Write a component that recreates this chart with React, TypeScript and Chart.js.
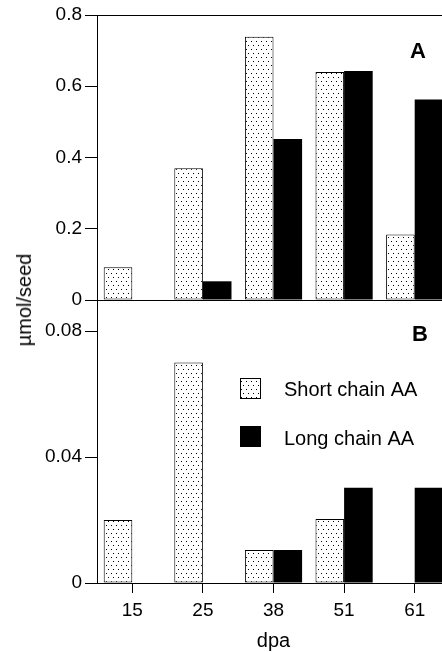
import React, { useEffect, useRef } from 'react';
import { Chart, registerables } from 'chart.js';

Chart.register(...registerables);

const categories = ['15', '25', '38', '51', '61'];
const shortChainA = [0.092, 0.37, 0.739, 0.64, 0.184];
const longChainA = [null, 0.0525, 0.452, 0.643, 0.563];
const shortChainB = [0.02, 0.07, 0.0105, 0.0203, null];
const longChainB = [null, null, 0.0105, 0.0302, 0.0302];
const yTicksA = [0, 0.2, 0.4, 0.6, 0.8];
const yTicksB = [0, 0.04, 0.08];
const seriesNames = ['Short chain AA', 'Long chain AA'];
const panelNames = ['A', 'B'];
const yTitle = 'µmol/seed';
const xTitle = 'dpa';

const FONT = '"Liberation Sans", Arial, Helvetica, sans-serif';
const INK = '#000';
const CANVAS_W = 452;
const TOP_H = 316;
const BOTTOM_H = 336;
const AXIS_LEFT = 97;

function makeDots(): CanvasPattern | string {
  const tile = document.createElement('canvas');
  tile.width = 10;
  tile.height = 8;
  const g = tile.getContext('2d');
  if (!g) return '#ddd';
  g.fillStyle = '#fff';
  g.fillRect(0, 0, 10, 8);
  g.fillStyle = '#000';
  g.fillRect(1, 1, 1, 1);
  g.fillRect(6, 1, 1, 1);
  g.fillRect(3, 5, 1, 1);
  g.fillRect(8, 5, 1, 1);
  const c = document.createElement('canvas').getContext('2d');
  const p = c ? c.createPattern(tile, 'repeat') : null;
  return p || '#ddd';
}

function buildOptions(ticks: number[], max: number, showX: boolean, xHeight: number): any {
  return {
    responsive: false,
    animation: false,
    devicePixelRatio: 1,
    layout: { padding: { top: 15, right: 2, left: 0, bottom: 0 } },
    plugins: {
      legend: { display: false },
      tooltip: { enabled: false },
      title: { display: false },
    },
    scales: {
      x: {
        offset: true,
        grid: {
          display: showX,
          drawOnChartArea: false,
          offset: false,
          tickLength: 10,
          color: INK,
          lineWidth: 1,
        },
        border: { display: true, color: INK, width: 1 },
        ticks: {
          display: showX,
          color: INK,
          font: { family: FONT, size: 19 },
          padding: 6,
          maxRotation: 0,
          autoSkip: false,
        },
        afterFit: (s: any) => {
          s.height = xHeight;
        },
      },
      y: {
        min: 0,
        max,
        afterBuildTicks: (s: any) => {
          s.ticks = ticks.map((v) => ({ value: v }));
        },
        grid: { drawOnChartArea: false, tickLength: 12, color: INK, lineWidth: 1 },
        border: { display: true, color: INK, width: 1 },
        ticks: {
          color: INK,
          font: { family: FONT, size: 19 },
          padding: 3,
          callback: (v: any) => String(v),
        },
        afterFit: (s: any) => {
          s.width = AXIS_LEFT;
        },
      },
    },
  };
}

function buildDatasets(shortData: (number | null)[], longData: (number | null)[], dots: CanvasPattern | string) {
  return [
    {
      label: seriesNames[0],
      data: shortData,
      backgroundColor: dots,
      borderColor: INK,
      borderWidth: 1,
      borderSkipped: false,
      categoryPercentage: 0.81,
      barPercentage: 1,
    },
    {
      label: seriesNames[1],
      data: longData,
      backgroundColor: INK,
      borderColor: INK,
      borderWidth: 0,
      categoryPercentage: 0.81,
      barPercentage: 1,
    },
  ];
}

export default function App() {
  const topRef = useRef<HTMLCanvasElement>(null);
  const bottomRef = useRef<HTMLCanvasElement>(null);

  useEffect(() => {
    if (!topRef.current || !bottomRef.current) return;
    const dots = makeDots();

    const panelAPlugin = {
      id: 'panelAFrame',
      afterDraw(chart: any) {
        const { ctx, chartArea: a } = chart;
        const x = Math.round(a.left) + 0.5;
        const yTop = Math.round(a.top) + 0.5;
        ctx.save();
        ctx.strokeStyle = INK;
        ctx.lineWidth = 1;
        ctx.beginPath();
        ctx.moveTo(x, yTop);
        ctx.lineTo(a.right, yTop);
        ctx.moveTo(x, a.bottom);
        ctx.lineTo(x, chart.height);
        ctx.stroke();
        ctx.fillStyle = INK;
        ctx.font = `bold 22px ${FONT}`;
        ctx.textAlign = 'center';
        ctx.textBaseline = 'alphabetic';
        ctx.fillText(panelNames[0], 418, 58);
        ctx.restore();
      },
    };

    const panelBPlugin = {
      id: 'panelBFrame',
      afterDraw(chart: any) {
        const { ctx, chartArea: a } = chart;
        const x = Math.round(a.left) + 0.5;
        ctx.save();
        ctx.strokeStyle = INK;
        ctx.lineWidth = 1;
        ctx.beginPath();
        ctx.moveTo(x, 0);
        ctx.lineTo(x, a.top + 1);
        ctx.stroke();

        ctx.fillStyle = INK;
        ctx.font = `bold 22px ${FONT}`;
        ctx.textAlign = 'center';
        ctx.textBaseline = 'alphabetic';
        ctx.fillText(panelNames[1], 420, 25);

        // legend
        ctx.fillStyle = dots as any;
        ctx.fillRect(240, 62, 21, 21);
        ctx.strokeStyle = INK;
        ctx.strokeRect(240.5, 62.5, 20, 20);
        ctx.fillStyle = INK;
        ctx.fillRect(240, 110, 21, 21);
        ctx.font = `20px ${FONT}`;
        ctx.textAlign = 'left';
        ctx.fillText(seriesNames[0], 284, 80);
        ctx.fillText(seriesNames[1], 284, 129);

        // x title
        ctx.textAlign = 'center';
        ctx.fillText(xTitle, (a.left + a.right) / 2, 331);
        ctx.restore();
      },
    };

    const chartA = new Chart(topRef.current, {
      type: 'bar',
      data: { labels: categories, datasets: buildDatasets(shortChainA, longChainA, dots) as any },
      options: buildOptions(yTicksA, 0.8, false, 16),
      plugins: [panelAPlugin],
    });
    const chartB = new Chart(bottomRef.current, {
      type: 'bar',
      data: { labels: categories, datasets: buildDatasets(shortChainB, longChainB, dots) as any },
      options: buildOptions(yTicksB, 0.08, true, 69),
      plugins: [panelBPlugin],
    });
    return () => {
      chartA.destroy();
      chartB.destroy();
    };
  }, []);

  return (
    <div
      style={{
        position: 'fixed',
        left: 0,
        top: 0,
        width: 442,
        height: 652,
        overflow: 'hidden',
        background: '#fff',
      }}
    >
      <canvas
        ref={topRef}
        width={CANVAS_W}
        height={TOP_H}
        style={{ position: 'absolute', left: 0, top: 0, width: CANVAS_W, height: TOP_H }}
      />
      <canvas
        ref={bottomRef}
        width={CANVAS_W}
        height={BOTTOM_H}
        style={{ position: 'absolute', left: 0, top: TOP_H, width: CANVAS_W, height: BOTTOM_H }}
      />
      <div
        style={{
          position: 'absolute',
          left: 24,
          top: 300,
          transform: 'translate(-50%, -50%) rotate(-90deg)',
          font: `20px ${FONT}`,
          lineHeight: '20px',
          whiteSpace: 'nowrap',
          color: INK,
        }}
      >
        {yTitle}
      </div>
    </div>
  );
}
